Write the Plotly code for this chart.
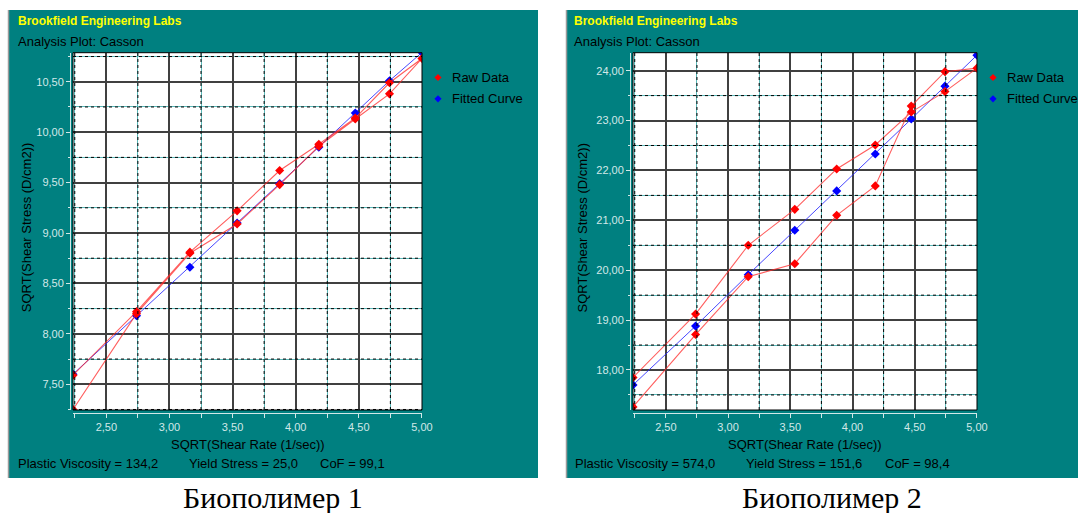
import plotly.graph_objects as go
import numpy as np

W, H = 1078, 513

# ---------------- data ----------------
sqrt_rate_up = [2.236, 2.739, 3.162, 3.536, 3.873, 4.183, 4.472, 4.743, 5.000]
sqrt_rate_down = [4.743, 4.472, 4.183, 3.873, 3.536, 3.162, 2.739, 2.236]

bp1_raw_up = [7.25, 8.20, 8.80, 9.09, 9.48, 9.86, 10.13, 10.38, 10.73]
bp1_raw_down = [10.49, 10.14, 9.88, 9.62, 9.22, 8.81, 8.22, 7.59]
bp1_fit = [7.60, 8.18, 8.66, 9.10, 9.49, 9.85, 10.19, 10.51, 10.79]

bp2_raw_up = [17.26, 18.71, 19.87, 20.13, 21.10, 21.69, 23.29, 23.98, 24.05]
bp2_raw_down = [23.58, 23.17, 22.51, 22.03, 21.22, 20.50, 19.12, 17.85]
bp2_fit = [17.70, 18.88, 19.91, 20.80, 21.59, 22.33, 23.03, 23.69, 24.31]

bp1_stats = ["Plastic Viscosity = 134,2", "Yield Stress = 25,0", "CoF = 99,1"]
bp2_stats = ["Plastic Viscosity = 574,0", "Yield Stress = 151,6", "CoF = 98,4"]
captions = ["Биополимер 1", "Биополимер 2"]
header = "Brookfield Engineering Labs"
subtitle = "Analysis Plot: Casson"
x_title = "SQRT(Shear Rate (1/sec))"
y_title = "SQRT(Shear Stress (D/cm2))"
legend_names = ["Raw Data", "Fitted Curve"]

# ---------------- styling ----------------
TEAL = "#008080"
LIGHT = "#d2e8e8"
FONT = "Liberation Sans, Arial, sans-serif"
RED_LINE = "rgba(255,40,40,0.75)"
BLUE_LINE = "rgba(40,40,255,0.85)"


def px(x):
    return x / W


def py(y):
    return 1 - y / H


panels = [
    dict(xa="x", ya="y", up=bp1_raw_up, down=bp1_raw_down, fit=bp1_fit, stats=bp1_stats,
         caption=captions[0], pan=(8, 538), plot=(73, 422), yline=70,
         yrange=[7.245, 10.788], ydtick=0.5, yminor=0.25,
         leg_marker=438, leg_text=449.5, head_x=15.5,
         stats_x=[15.6, 186.9, 317.6], cap_x=273, ytitle_x=26.7),
    dict(xa="x2", ya="y2", up=bp2_raw_up, down=bp2_raw_down, fit=bp2_fit, stats=bp2_stats,
         caption=captions[1], pan=(566, 1078), plot=(633, 977), yline=630,
         yrange=[17.198, 24.36], ydtick=1.0, yminor=0.5,
         leg_marker=993, leg_text=1004.5, head_x=571.8,
         stats_x=[572.9, 744.2, 882.6], cap_x=832, ytitle_x=582),
]

PLOT_TOP, PLOT_BOT, XLINE_Y = 52.7, 410, 412.7
XRANGE = [2.236, 5.0005]

fig = go.Figure()
shapes = []
annotations = []
layout_axes = {}

for i, p in enumerate(panels):
    # traces: fitted first, raw data on top
    fig.add_trace(go.Scatter(
        x=sqrt_rate_up, y=p["fit"], mode="lines+markers", name=legend_names[1],
        line=dict(color=BLUE_LINE, width=1),
        marker=dict(symbol="diamond", size=7, color="#0000ff"),
        xaxis=p["xa"], yaxis=p["ya"], showlegend=False))
    fig.add_trace(go.Scatter(
        x=sqrt_rate_up + sqrt_rate_down, y=p["up"] + p["down"], mode="lines+markers",
        name=legend_names[0],
        line=dict(color=RED_LINE, width=1.1),
        marker=dict(symbol="diamond", size=7, color="#ff0000"),
        xaxis=p["xa"], yaxis=p["ya"], showlegend=False))

    # panel background and plot area
    x0, x1 = p["pan"]
    shapes.append(dict(type="rect", xref="paper", yref="paper", x0=px(x0), x1=px(x1),
                       y0=py(478), y1=py(10), fillcolor=TEAL, line=dict(width=0), layer="below"))
    shapes.append(dict(type="line", xref="paper", yref="paper", x0=px(x0 + 0.5), x1=px(x0 + 0.5),
                       y0=py(478), y1=py(10), line=dict(color="#9a9a9a", width=1.5), layer="below"))
    l, r = p["plot"]
    shapes.append(dict(type="rect", xref="paper", yref="paper", x0=px(l), x1=px(r),
                       y0=py(PLOT_BOT), y1=py(PLOT_TOP), fillcolor="white", line=dict(width=0),
                       layer="below"))

    xa_key = "xaxis" if p["xa"] == "x" else "xaxis2"
    ya_key = "yaxis" if p["ya"] == "y" else "yaxis2"
    ylo, yhi = p["yrange"]

    # black dashes over the cyan minor grid lines
    def xpix(v):
        return l + (v - XRANGE[0]) / (XRANGE[1] - XRANGE[0]) * (r - l)

    def ypix(v):
        return PLOT_BOT - (v - ylo) / (yhi - ylo) * (PLOT_BOT - PLOT_TOP)

    for xv in np.arange(2.25, 5.0, 0.5):
        shapes.append(dict(type="line", xref="paper", yref="paper",
                           x0=px(xpix(xv)), x1=px(xpix(xv)), y0=py(PLOT_BOT), y1=py(PLOT_TOP),
                           line=dict(color="#000000", width=1, dash="3px,3px"), layer="above"))
    start = np.ceil((ylo - p["yminor"]) / p["ydtick"]) * p["ydtick"] + p["yminor"]
    for yv in np.arange(start, yhi, p["ydtick"]):
        if yv <= ylo:
            continue
        shapes.append(dict(type="line", xref="paper", yref="paper",
                           x0=px(l), x1=px(r), y0=py(ypix(yv)), y1=py(ypix(yv)),
                           line=dict(color="#000000", width=1, dash="3px,3px"), layer="above"))

    # frame
    shapes.append(dict(type="rect", xref="paper", yref="paper", x0=px(l), x1=px(r),
                       y0=py(PLOT_BOT), y1=py(PLOT_TOP), line=dict(color="black", width=1),
                       layer="above"))

    layout_axes[xa_key] = dict(
        domain=[px(l), px(r)], range=XRANGE, anchor="free", position=py(XLINE_Y),
        dtick=0.5, tick0=0, tickformat=".2f", showgrid=True, gridcolor="#404040",
        gridwidth=1.5, ticks="outside", ticklen=4, tickcolor=LIGHT, showline=True,
        linecolor=LIGHT, linewidth=1, zeroline=False, fixedrange=True,
        tickfont=dict(size=11, color=LIGHT, family=FONT),
        minor=dict(dtick=0.25, tick0=0, ticks="outside", ticklen=4, tickcolor=LIGHT,
                   showgrid=True, gridcolor="#5ab8b8", gridwidth=1))
    layout_axes[ya_key] = dict(
        domain=[py(PLOT_BOT), py(PLOT_TOP)], range=p["yrange"], anchor="free",
        position=px(p["yline"]), dtick=p["ydtick"], tick0=0, tickformat=".2f",
        showgrid=True, gridcolor="#404040", gridwidth=1.5, ticks="outside", ticklen=4,
        tickcolor=LIGHT, showline=True, linecolor=LIGHT, linewidth=1, zeroline=False,
        fixedrange=True, tickfont=dict(size=11, color=LIGHT, family=FONT),
        minor=dict(dtick=p["yminor"], tick0=0, ticks="outside", ticklen=2, tickcolor=LIGHT,
                   showgrid=True, gridcolor="#5ab8b8", gridwidth=1))

    # texts
    annotations.append(dict(text=f"<b>{header}</b>", x=px(p["head_x"]), y=py(21.5), xref="paper",
                            yref="paper", xanchor="left", yanchor="middle", showarrow=False,
                            font=dict(size=12, color="#ffff00", family=FONT)))
    annotations.append(dict(text=subtitle, x=px(p["head_x"]), y=py(41.5), xref="paper",
                            yref="paper", xanchor="left", yanchor="middle", showarrow=False,
                            font=dict(size=13, color="black", family=FONT)))
    annotations.append(dict(text=y_title, x=px(p["ytitle_x"]), y=py(227.5), xref="paper",
                            yref="paper", xanchor="center", yanchor="middle", textangle=-90,
                            showarrow=False, font=dict(size=13, color="black", family=FONT)))
    annotations.append(dict(text=x_title, x=px((l + r) / 2), y=py(444.3), xref="paper",
                            yref="paper", xanchor="center", yanchor="middle", showarrow=False,
                            font=dict(size=13, color="black", family=FONT)))
    for sx, st in zip(p["stats_x"], p["stats"]):
        annotations.append(dict(text=st, x=px(sx), y=py(463), xref="paper", yref="paper",
                                xanchor="left", yanchor="middle", showarrow=False,
                                font=dict(size=13, color="black", family=FONT)))
    annotations.append(dict(text=p["caption"], x=px(p["cap_x"]), y=py(497), xref="paper",
                            yref="paper", xanchor="center", yanchor="middle", showarrow=False,
                            font=dict(size=30, color="black",
                                      family="Liberation Serif, Times New Roman, serif")))
    # legend
    for k, (name, col) in enumerate(zip(legend_names, ["#ff0000", "#0000ff"])):
        ly = 77.5 + k * 21.3
        mx = p["leg_marker"]
        d = 3.6
        shapes.append(dict(type="path", xref="paper", yref="paper",
                           path=f"M {px(mx - d)},{py(ly)} L {px(mx)},{py(ly - d)} "
                                f"L {px(mx + d)},{py(ly)} L {px(mx)},{py(ly + d)} Z",
                           fillcolor=col, line=dict(width=0), layer="above"))
        annotations.append(dict(text=name, x=px(p["leg_text"]), y=py(ly), xref="paper",
                                yref="paper", xanchor="left", yanchor="middle", showarrow=False,
                                font=dict(size=13, color="black", family=FONT)))

fig.update_layout(
    width=W, height=H, margin=dict(l=0, r=0, t=0, b=0, pad=0, autoexpand=False),
    paper_bgcolor="white", plot_bgcolor="white",
    separators=", ", showlegend=False,
    shapes=shapes, annotations=annotations,
    **layout_axes,
)

fig.write_html(
    "out.html",
    config={"displayModeBar": False},
    post_script="document.documentElement.style.overflow='hidden';"
                "document.body.style.margin='0';document.body.style.overflow='hidden';",
)
